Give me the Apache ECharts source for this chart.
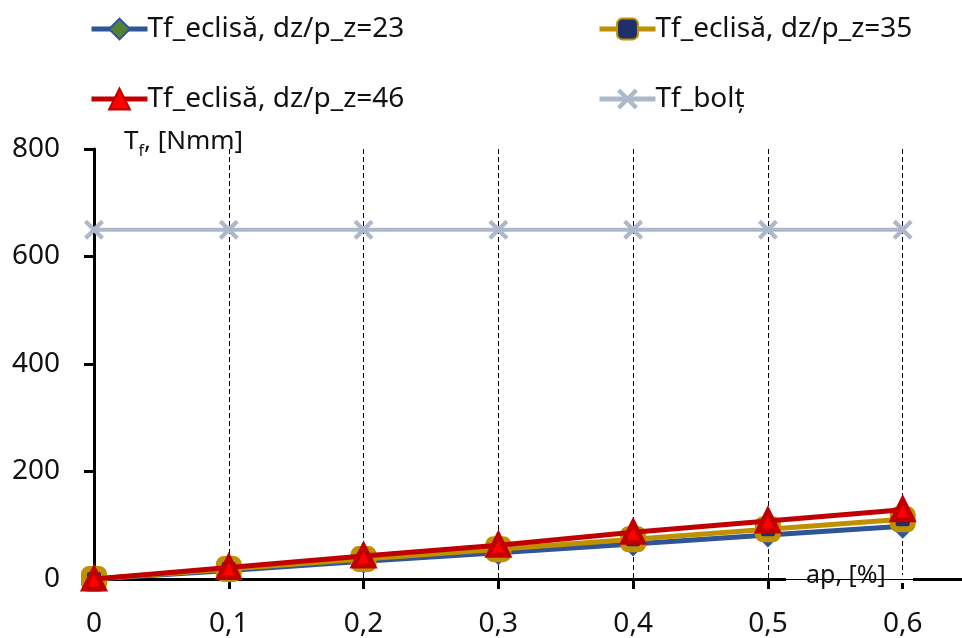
<!DOCTYPE html>
<html>
<head>
<meta charset="utf-8">
<script src="https://cdn.jsdelivr.net/npm/echarts@6/dist/echarts.min.js"></script>
<style>
  html, body { margin: 0; padding: 0; background: #fff; }
  #chart { width: 962px; height: 638px; }
</style>
</head>
<body>
<div id="chart"></div>
<script>
// ap values [%]
const apValues = [0, 0.1, 0.2, 0.3, 0.4, 0.5, 0.6];
// Tf [Nmm] per configuration
const tfEclisa23 = [0, 16, 33, 49, 65, 82, 98];
const tfEclisa35 = [0, 18.5, 37, 55.5, 74, 92.5, 111];
const tfEclisa46 = [0, 21.5, 43, 63, 87, 108, 129];
const tfBolt = [650, 650, 650, 650, 650, 650, 650];

const seriesNames = [
  'Tf_eclisă, dz/p_z=23',
  'Tf_eclisă, dz/p_z=35',
  'Tf_eclisă, dz/p_z=46',
  'Tf_bolț'
];

const FONT = 'Noto Sans';
const FS = 28;
const pairs = arr => apValues.map((x, i) => [x, arr[i]]);
// bold X marker
const crossPath = 'path://M3,0 L10,7 L17,0 L20,3 L13,10 L20,17 L17,20 L10,13 L3,20 L0,17 L7,10 L0,3 Z';

const legendBase = {
  orient: 'vertical', top: 10, itemGap: 42,
  itemWidth: 56, itemHeight: 26,
  lineStyle: { width: 5 },
  textStyle: { fontSize: FS, color: '#111', fontFamily: FONT, padding: [0, 0, 0, -5] }
};

const chart = echarts.init(document.getElementById('chart'));
chart.setOption({
  animation: false,
  backgroundColor: '#ffffff',
  textStyle: { fontFamily: FONT },
  legend: [
    Object.assign({ data: [seriesNames[0], seriesNames[2]], left: 84 }, legendBase),
    Object.assign({ data: [seriesNames[1], seriesNames[3]], left: 592 }, legendBase)
  ],
  grid: { left: 94, right: 0, top: 149, bottom: 59, containLabel: false, outerBoundsMode: 'none' },
  xAxis: {
    type: 'value', min: 0, max: 0.644, interval: 0.1,
    axisLine: { show: true, onZero: false, lineStyle: { color: '#000', width: 3 } },
    axisTick: { show: true, length: 10, lineStyle: { color: '#000', width: 3 } },
    axisLabel: {
      showMaxLabel: false, margin: 31, fontSize: FS, color: '#111', fontFamily: FONT,
      formatter: v => (Math.abs(v * 10 - Math.round(v * 10)) < 1e-6) ? String(+v.toFixed(1)).replace('.', ',') : ''
    },
    splitLine: { show: true, lineStyle: { color: '#000', width: 1, type: [5, 3] } }
  },
  yAxis: {
    type: 'value', min: 0, max: 800, interval: 200,
    axisLine: { show: true, lineStyle: { color: '#000', width: 3 } },
    axisTick: { show: true, length: 10, lineStyle: { color: '#000', width: 3 } },
    axisLabel: { margin: 34, fontSize: FS, color: '#111', fontFamily: FONT },
    splitLine: { show: false }
  },
  graphic: [
    {
      type: 'text', left: 124, top: 129, z: 10,
      style: {
        text: '{a|T}{s|f}{a|, [Nmm]}',
        rich: {
          a: { fontSize: 26, fontFamily: FONT, fill: '#111', verticalAlign: 'bottom' },
          s: { fontSize: 16, fontFamily: FONT, fill: '#111', verticalAlign: 'bottom', padding: [0, 0, -4, 0] }
        }
      }
    },
    { type: 'rect', shape: { x: 786, y: 575, width: 127, height: 8 }, style: { fill: '#fff' }, z: 10 },
    { type: 'line', shape: { x1: 786, y1: 579.5, x2: 913, y2: 579.5 }, style: { stroke: '#000', lineWidth: 1 }, z: 11 },
    {
      type: 'text', left: 806, top: 563, z: 12,
      style: { text: 'ap, [%]', fontSize: 25, fontFamily: FONT, fill: '#111' }
    }
  ],
  series: [
    {
      name: seriesNames[3], type: 'line', data: pairs(tfBolt), z: 2,
      symbol: crossPath, symbolSize: 20,
      lineStyle: { color: '#ADB9CA', width: 4 },
      itemStyle: { color: '#ADB9CA' }
    },
    {
      name: seriesNames[0], type: 'line', data: pairs(tfEclisa23), z: 3,
      symbol: 'diamond', symbolSize: 18,
      lineStyle: { color: '#2F5597', width: 5 },
      itemStyle: { color: '#548235', borderColor: '#2F5597', borderWidth: 5 }
    },
    {
      name: seriesNames[1], type: 'line', data: pairs(tfEclisa35), z: 4,
      symbol: 'roundRect', symbolSize: 20,
      lineStyle: { color: '#BF9000', width: 5 },
      itemStyle: { color: '#1F2F6B', borderColor: '#BF9000', borderWidth: 6 }
    },
    {
      name: seriesNames[2], type: 'line', data: pairs(tfEclisa46), z: 5,
      symbol: 'triangle', symbolSize: 20,
      lineStyle: { color: '#C00000', width: 5 },
      itemStyle: { color: '#FF0000', borderColor: '#C00000', borderWidth: 5 }
    }
  ]
});
</script>
</body>
</html>
